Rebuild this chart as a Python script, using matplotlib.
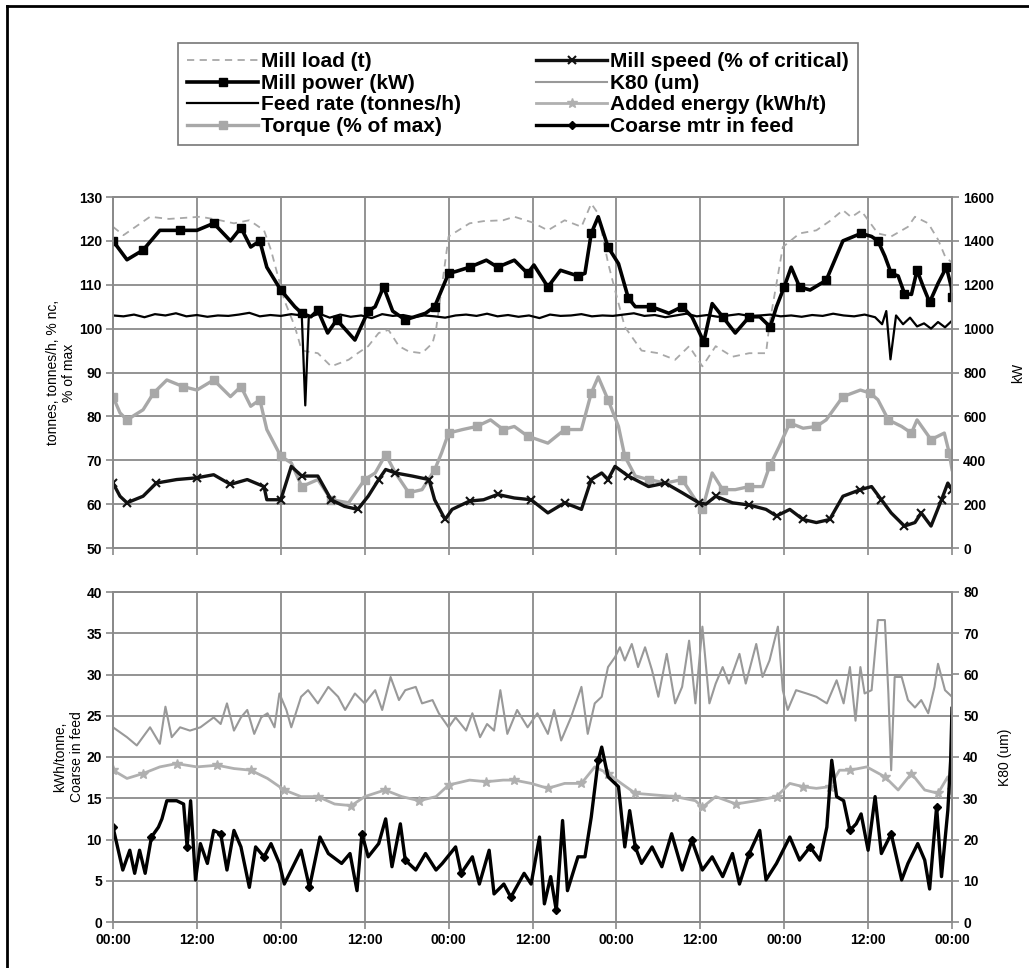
import numpy as np
import matplotlib
matplotlib.use('Agg')
import matplotlib.pyplot as plt
from matplotlib.lines import Line2D

plt.rcParams['font.family'] = ['Liberation Sans', 'DejaVu Sans']
plt.rcParams['font.weight'] = 'bold'

# ---------- data (hours from start, 5 days) ----------
# Mill load (t)
loadT = [0, 1.5, 5.3, 8, 12.5, 15, 17.3, 19.5, 21.6, 22.6,
         24.5, 26, 27, 29.3, 31.2, 33.7, 35, 36.5, 38, 39.4,
         40.9, 42.3, 44.2, 45.7, 46.2, 48, 51, 53, 55.8, 57.4,
         60, 62.2, 64.6, 67, 68.4, 69.4, 70.8, 71.8, 73.2, 75.6,
         78, 80.4, 82.4, 84.3, 86.2, 88.6, 91, 93.4, 93.9, 95.8,
         98.2, 100.6, 102.5, 104.4, 105.6, 107, 109.4, 111.3, 113.7, 114.7,
         116.6, 118, 119, 120]
loadV = [123.2, 121.3, 125.5, 125, 125.5, 124.8, 124, 124.7, 122.4, 117.9,
         106.5, 100.5, 95, 94.4, 91.4, 92.9, 94.4, 96, 99, 99.7,
         96, 94.8, 94.4, 96.7, 99.7, 121, 124, 124.5, 124.7, 125.5,
         124.2, 122.4, 124.7, 123.2, 128.5, 126.2, 115, 108.8, 100.4, 95,
         94.4, 92.9, 96, 91.4, 96, 93.6, 94.4, 94.4, 101.1, 118.6,
         121.7, 122.4, 124.5, 127, 125.4, 126.9, 121.7, 121, 123.2, 125.5,
         124, 120.3, 116.5, 115]

# Mill power (kW)
powerT = [0, 2, 4.3, 6.7, 9.6, 12, 14.4, 16.8, 18.3, 19.7,
          21, 22, 24, 26, 27, 28.3, 29.3, 30.7, 32, 34.6,
          36.5, 37.5, 38.7, 40, 41.8, 44.7, 46, 47, 48, 49,
          51, 53.4, 55, 57.4, 59.3, 60.2, 62.2, 64, 66.5, 67.5,
          68.4, 69.4, 70.8, 72.3, 73.7, 74.7, 77, 79.5, 81.4, 82.8,
          84.5, 85.7, 87.2, 89, 91, 92.5, 94, 94.9, 96, 97,
          98.2, 99.7, 102, 104.4, 107, 108.5, 109.4, 110.4, 111.3, 112.3,
          113.2, 114.2, 115, 115.9, 116.8, 118, 119.2, 119.9, 120]
powerV = [1400, 1314, 1358, 1448, 1448, 1448, 1480, 1400, 1460, 1372,
          1400, 1280, 1176, 1100, 1070, 1054, 1084, 980, 1040, 948,
          1080, 1100, 1190, 1080, 1040, 1070, 1100, 1176, 1252, 1260,
          1280, 1312, 1280, 1312, 1252, 1290, 1190, 1266, 1240, 1252,
          1434, 1510, 1372, 1296, 1140, 1100, 1100, 1070, 1100, 1054,
          940, 1114, 1054, 980, 1054, 1054, 1008, 1100, 1190, 1280,
          1190, 1176, 1220, 1400, 1434, 1420, 1400, 1330, 1252, 1240,
          1160, 1156, 1266, 1190, 1120, 1206, 1280, 1190, 1146]

# Feed rate (tonnes/h)
feedT = [0, 1.5, 3, 4.5, 6, 7.5, 9, 10.5, 12, 13.5,
         15, 16.5, 18, 19.5, 21, 22.5, 24, 25.5, 27, 27.5,
         28, 29.5, 31, 32.5, 34, 35.5, 37, 38.5, 40, 41.5,
         43, 44.5, 46, 47.5, 49, 50.5, 52, 53.5, 55, 56.5,
         58, 59.5, 61, 62.5, 64, 65.5, 67, 68.5, 70, 71.5,
         73, 74.5, 76, 77.5, 79, 80.5, 82, 83.5, 85, 86.5,
         88, 89.5, 91, 92.5, 94, 95.5, 97, 98.5, 100, 101.5,
         103, 104.5, 106, 107.5, 109, 110, 110.6, 111.2, 112, 113,
         114, 115, 116, 117, 118, 119, 120]
feedV = [103.0, 102.8, 103.2, 102.6, 103.3, 103.0, 103.5, 102.8, 103.1, 102.7,
         103.0, 102.9, 103.2, 103.6, 102.8, 103.1, 102.9, 103.3, 103.0, 82.5,
         102.6, 103.4, 102.5, 103.2, 102.7, 103.0, 102.4, 103.3, 102.9, 103.1,
         102.6, 103.0, 102.8, 102.5, 103.0, 103.2, 102.9, 103.4, 102.8, 103.1,
         102.7, 103.0, 102.4, 103.2, 102.9, 103.0, 103.3, 102.8, 103.0, 102.9,
         103.2, 103.5, 102.9, 103.1, 102.6, 103.0, 103.4, 102.8, 103.1, 102.7,
         103.0, 103.3, 102.9, 103.0, 103.2, 102.8, 103.0, 102.7, 103.1, 102.9,
         103.4, 103.0, 102.8, 103.2, 102.6, 101.0, 104.0, 93.0, 103.0, 101.0,
         102.5, 100.5, 101.2, 100.0, 101.5, 100.3, 101.8]

# Torque (% of max)
torqueT = [0, 1, 2, 4.3, 5.8, 7.7, 10, 12, 14.4, 16.8,
           18.3, 19.7, 21, 22, 24, 25.5, 27, 29.3, 31.2, 33.7,
           36, 37.5, 39, 40.4, 42.3, 44.2, 46, 47, 48, 50,
           52, 54, 55.8, 57.4, 59.3, 62.2, 64.6, 67, 68.4, 69.4,
           70.8, 72.3, 73.2, 74.7, 76.6, 79, 81.4, 83.3, 84.3, 85.7,
           87.2, 89, 91, 92.9, 93.9, 95.3, 96.8, 98.7, 100.6, 102,
           104.4, 106.9, 108.3, 109.4, 110.9, 112.8, 114.2, 115, 117, 118.9,
           119.6, 120]
torqueV = [84.5, 80.8, 79.2, 81.5, 85.3, 88.3, 86.8, 86, 88.3, 84.5,
           86.8, 82.3, 83.8, 77, 70.9, 69.4, 64, 65.6, 61, 60.3,
           65.6, 67.1, 71.3, 67.1, 62.6, 63.3, 67.8, 71.7, 76.2, 77,
           77.7, 79.2, 77, 77.7, 75.5, 73.9, 77, 77, 85.3, 89,
           83.8, 77.7, 70.9, 66.4, 65.6, 64.8, 65.6, 61, 58.8, 67.1,
           63.3, 63.3, 64, 64, 68.6, 73.2, 78.5, 77.3, 77.7, 79.2,
           84.5, 86, 85.3, 83.8, 79.2, 77.7, 76.2, 79.2, 74.7, 76.2,
           71.7, 67.9]

# Mill speed (% of critical)
speedT = [0, 1, 2, 4.3, 6.2, 9.1, 12, 14.4, 16.8, 19.2,
          21.6, 22, 24, 25.5, 27, 29.3, 31.2, 33.1, 35, 36.5,
          38, 39, 40.4, 42.8, 45.2, 46, 47.5, 48.5, 51, 53,
          55, 57.4, 59.8, 62.2, 64.6, 67, 68.4, 69.9, 70.8, 71.8,
          73.7, 76.6, 79, 81.4, 83.8, 84.8, 86.2, 88.6, 91, 93.4,
          94.9, 96.8, 98.7, 100.6, 102.5, 104.4, 106.9, 108.5, 109.9, 111.3,
          113.2, 114.7, 115.6, 117, 118.5, 119.4, 120]
speedV = [64.8, 61.8, 60.3, 61.8, 64.8, 65.6, 66, 66.7, 64.5, 65.6,
          64, 61, 61, 68.6, 66.4, 66.4, 61, 59.5, 58.8, 61.8,
          65.6, 67.9, 67.1, 66.4, 65.6, 61, 56.5, 58.8, 60.7, 61,
          62.2, 61.4, 61, 58, 60.3, 58.8, 65.6, 67.1, 65.6, 68.6,
          66.4, 64, 64.8, 62.6, 60.3, 60, 61.8, 60.3, 59.8, 58.8,
          57.3, 58.8, 56.5, 55.8, 56.5, 61.8, 63.3, 64, 61, 58,
          55, 55.8, 58, 55, 61, 64.8, 63.3]

# K80 (um)
k80T = [0, 2, 3.4, 5.3, 6.7, 7.5, 8.4, 9.6, 11, 12.5,
        14.4, 15.4, 16.3, 17.3, 18.3, 19.2, 20.2, 21.2, 22.1, 23.1,
        23.8, 24.8, 25.5, 26.9, 27.9, 29.3, 30.8, 32.2, 33.2, 34.6,
        36, 37.5, 38.5, 39.7, 40.9, 41.8, 43.3, 44.2, 45.7, 46.6,
        48, 49, 50.5, 51.4, 52.5, 53.5, 54.5, 55.4, 56.4, 57.8,
        59.3, 60.7, 62.2, 63.1, 64.1, 65.5, 67, 67.9, 68.9, 69.9,
        70.8, 71.8, 72.5, 73.2, 74.2, 75.1, 76.1, 77.1, 78, 79.2,
        80.4, 81.4, 82.4, 83.3, 84.3, 85.3, 86.2, 87.2, 88.1, 89.6,
        90.5, 92, 92.9, 93.9, 95.1, 95.8, 96.5, 97.7, 99.2, 100.6,
        102.1, 103.5, 104.5, 105.4, 106.2, 106.9, 107.5, 108.5, 109.4, 110.4,
        110.9, 111.3, 111.8, 112.8, 113.7, 114.7, 115.6, 116.6, 117.5, 118,
        119, 120]
k80V = [47.2, 44.8, 42.8, 47.2, 43.2, 52.2, 44.8, 47.2, 46.4, 47.2,
        49.6, 48, 53, 46.4, 49.6, 51.4, 45.6, 49.6, 50.6, 47.2,
        55.4, 51.4, 47.2, 54.6, 56.2, 53, 57, 54.6, 51.4, 55.4,
        53, 56.2, 51.4, 59.4, 53.8, 56.2, 57, 53, 53.8, 50.6,
        47.2, 49.6, 46.4, 50.6, 44.8, 48, 46.4, 56.2, 45.6, 51.4,
        47.2, 50.6, 45.6, 51.4, 44, 49.6, 57, 45.6, 53, 54.6,
        61.8, 64.2, 66.6, 63.4, 67.4, 61.8, 66.6, 61, 54.6, 65,
        53, 57, 68.2, 53, 71.6, 53, 57.8, 61.8, 57.8, 65,
        57.8, 67.4, 59.4, 63.4, 71.6, 56.2, 51.4, 56.2, 55.4, 54.6,
        53, 58.6, 53, 61.8, 48.8, 61.8, 55.4, 56.2, 73.2, 73.2,
        55.4, 36.8, 59.4, 59.4, 53.8, 52, 53.8, 50.6, 57, 62.6,
        56.2, 54.6]

# Added energy (kWh/t)
energyT = [0, 2, 4.3, 6.7, 9.1, 12, 14.9, 17.3, 19.7, 22.1,
           24.5, 26.9, 29.3, 31.7, 34.1, 36, 38.9, 41.3, 43.8, 46.2,
           48, 51, 53.4, 55.8, 57.4, 59.8, 62.2, 64.6, 67, 68.9,
           70.8, 72.7, 74.7, 77.5, 80.4, 83.3, 84.3, 86.2, 89.1, 92,
           94.9, 96.8, 98.7, 100.6, 102.5, 103.9, 105.4, 107.8, 110.4, 112.3,
           114.2, 116.1, 118, 119.4, 120]
energyV = [18.4, 17.4, 18, 18.8, 19.2, 18.8, 19, 18.6, 18.4, 17.4,
           16, 15.2, 15.2, 14.3, 14.1, 15.2, 16, 15.2, 14.7, 15.2,
           16.6, 17.2, 17, 17.2, 17.2, 16.8, 16.2, 16.8, 16.8, 18.8,
           18, 16.8, 15.6, 15.4, 15.2, 14.7, 13.9, 15.2, 14.3, 14.7,
           15.2, 16.8, 16.4, 16.2, 16.4, 18.4, 18.4, 18.8, 17.6, 16,
           18, 16, 15.6, 17.6, 16]

# Coarse mtr in feed
coarseT = [0, 1.4, 2.4, 3.1, 3.8, 4.6, 5.5, 6.5, 7, 7.7,
           9.1, 10.1, 10.6, 11.1, 11.8, 12.5, 13.5, 14.4, 15.4, 16.3,
           17.3, 18.3, 19.5, 20.4, 21.6, 22.6, 23.8, 24.5, 25.5, 26.9,
           28.1, 29.6, 30.8, 32.7, 33.9, 34.9, 35.6, 36.5, 38, 39,
           39.9, 41.1, 41.8, 43.3, 44.7, 46.2, 47.1, 49, 49.8, 51.4,
           52.4, 53.8, 54.5, 55.9, 56.9, 58.8, 59.8, 61, 61.7, 62.6,
           63.4, 64.3, 65, 66.5, 67.5, 68.4, 69.4, 69.9, 70.8, 72.3,
           73.2, 73.9, 74.7, 75.6, 77.1, 78.5, 79.9, 81.4, 82.8, 84.3,
           85.7, 87.2, 88.6, 89.6, 91, 92.5, 93.4, 94.9, 96.8, 98.2,
           99.7, 101.1, 102.1, 102.8, 103.5, 104.5, 105.4, 106.3, 107, 108,
           109, 109.9, 111.3, 112.8, 113.7, 115.1, 116.1, 116.8, 117.8, 118.5,
           119.4, 119.8, 120]
coarseV = [11.5, 6.3, 8.7, 5.9, 8.7, 5.9, 10.3, 11.5, 12.5, 14.7,
           14.7, 14.3, 9.1, 14.7, 5.1, 9.5, 7.1, 11.1, 10.7, 6.3,
           11.1, 9.1, 4.2, 9.1, 7.9, 9.5, 7.1, 4.6, 6.3, 8.7,
           4.2, 10.3, 8.3, 7.1, 8.3, 3.8, 10.7, 7.9, 9.5, 12.5,
           6.7, 11.9, 7.5, 6.3, 8.3, 6.3, 7.1, 9.1, 5.9, 7.9,
           4.6, 8.7, 3.4, 4.6, 3, 5.9, 4.6, 10.3, 2.2, 5.5,
           1.4, 12.3, 3.8, 7.9, 7.9, 12.7, 19.6, 21.2, 17.6, 16.4,
           9.1, 13.5, 9.1, 7.1, 9.1, 6.7, 10.7, 6.3, 9.9, 6.3,
           7.9, 5.5, 8.3, 4.6, 8.3, 11.1, 5.1, 7.1, 10.3, 7.5,
           9.1, 7.5, 11.5, 19.6, 15.2, 14.7, 11.1, 11.9, 13.1, 8.7,
           15.2, 8.3, 10.7, 5.1, 7.1, 9.5, 7.5, 4, 14, 5.5,
           13.5, 19.5, 25.9]

xTicks = list(range(0, 121, 12))
xLabels = ['00:00', '12:00'] * 5 + ['00:00']

# ---------- figure ----------
W, H = 1029, 968
fig = plt.figure(figsize=(W / 100, H / 100), dpi=100)

gridCol = '#8a8a8a'
lightGrey = '#a8a8a8'

axTop = fig.add_axes([113 / W, 1 - 548 / H, 839 / W, 351 / H])
axBot = fig.add_axes([113 / W, 1 - 922 / H, 839 / W, 330 / H])
axTopR = axTop.twinx()
axBotR = axBot.twinx()

# top panel
axTop.plot(loadT, loadV, color=lightGrey, lw=1.3, ls=(0, (4, 3)))
axTop.plot(feedT, feedV, color='black', lw=1.6)
axTop.plot(torqueT, torqueV, color=lightGrey, lw=2.4, marker='s', ms=6, markevery=2)
axTop.plot(speedT, speedV, color='#111111', lw=2.4, marker='x', ms=6, mew=1.5, markevery=2)
axTopR.plot(powerT, powerV, color='black', lw=2.6, marker='s', ms=6, markevery=2)

# bottom panel
axBotR.plot(k80T, k80V, color='#999999', lw=1.5)
axBot.plot(energyT, energyV, color='#b0b0b0', lw=2.0, marker='*', ms=7, markevery=2)
axBot.plot(coarseT, coarseV, color='black', lw=2.4, marker='D', ms=4, markevery=6)

axTop.set_ylim(50, 130)
axTop.set_yticks(range(50, 131, 10))
axTopR.set_ylim(0, 1600)
axTopR.set_yticks(range(0, 1601, 200))
axBot.set_ylim(0, 40)
axBot.set_yticks(range(0, 41, 5))
axBotR.set_ylim(0, 80)
axBotR.set_yticks(range(0, 81, 10))

for ax in (axTop, axBot):
    ax.set_xlim(0, 120)
    ax.set_xticks(xTicks)
    ax.grid(True, color=gridCol, lw=1.3)
    ax.set_axisbelow(True)
axTop.set_xticklabels([])
axBot.set_xticklabels(xLabels)

for ax in (axTop, axBot, axTopR, axBotR):
    for s in ax.spines.values():
        s.set_color(gridCol)
        s.set_linewidth(1.3)
    ax.tick_params(labelsize=10, length=5, width=1.2, color=gridCol, pad=3)

axTop.set_ylabel('tonnes, tonnes/h, % nc,\n% of max', fontsize=10, labelpad=2)
axTopR.set_ylabel('kW', fontsize=10, labelpad=12)
axBot.set_ylabel('kWh/tonne,\nCoarse in feed', fontsize=10, labelpad=2)
axBotR.set_ylabel('K80 (um)', fontsize=10, labelpad=14)

# legend
handles = [
    Line2D([], [], color=lightGrey, lw=1.3, ls=(0, (4, 3))),
    Line2D([], [], color='black', lw=2.6, marker='s', ms=6),
    Line2D([], [], color='black', lw=1.6),
    Line2D([], [], color=lightGrey, lw=2.4, marker='s', ms=6),
    Line2D([], [], color='#111111', lw=2.4, marker='x', ms=6, mew=1.5),
    Line2D([], [], color='#999999', lw=1.5),
    Line2D([], [], color='#b0b0b0', lw=2.0, marker='*', ms=7),
    Line2D([], [], color='black', lw=2.4, marker='D', ms=4),
]
labels = ['Mill load (t)', 'Mill power (kW)', 'Feed rate (tonnes/h)', 'Torque (% of max)',
          'Mill speed (% of critical)', 'K80 (um)', 'Added energy (kWh/t)', 'Coarse mtr in feed']
leg = fig.legend(handles, labels, ncol=2, loc='upper left',
                 bbox_to_anchor=(178 / W, 1 - 43 / H), fontsize=15,
                 frameon=True, fancybox=False, edgecolor='#555555',
                 handlelength=3.4, handletextpad=0.15, columnspacing=3.6,
                 labelspacing=0.12, borderpad=0.45, borderaxespad=0)
leg.get_frame().set_linewidth(1.2)

# page border (left and top)
fig.add_artist(Line2D([7 / W, 7 / W], [0, 1 - 6 / H], color='black', lw=2))
fig.add_artist(Line2D([7 / W, 1], [1 - 6 / H, 1 - 6 / H], color='black', lw=2))

fig.savefig('out.png', dpi=100)
